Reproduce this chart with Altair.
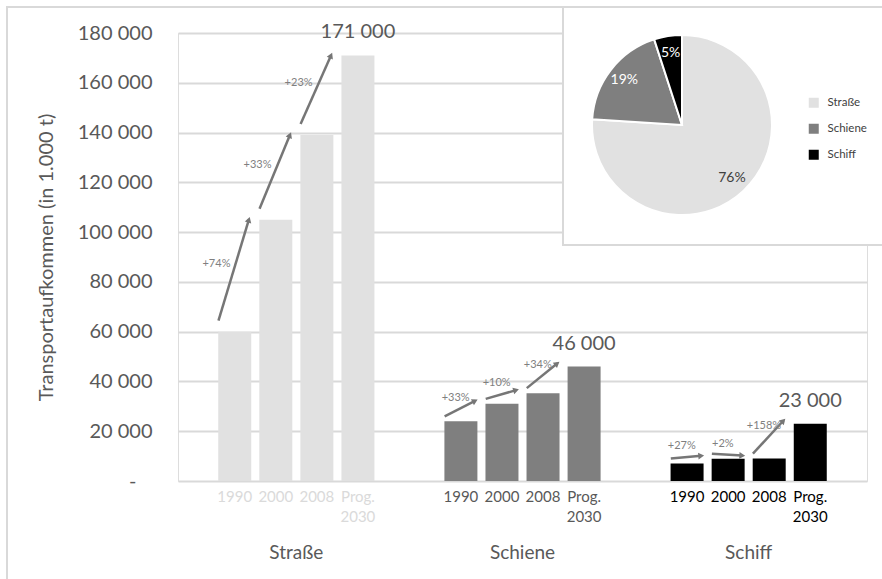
import math
import altair as alt
import pandas as pd

# ---------------- data ----------------
groups = ["Straße", "Schiene", "Schiff"]
years = ["1990", "2000", "2008", "Prog.\n2030"]
strasse = [60000, 105000, 139000, 171000]
schiene = [24000, 31000, 35300, 46000]
schiff = [7000, 8900, 9000, 23000]
growth_strasse = ["+74%", "+33%", "+23%"]
growth_schiene = ["+33%", "+10%", "+34%"]
growth_schiff = ["+27%", "+2%", "+158%"]
share_values = [76, 19, 5]
share_labels = ["76%", "19%", "5%"]
y_ticks = [0, 20000, 40000, 60000, 80000, 100000, 120000, 140000, 160000, 180000]

# ---------------- style / layout ----------------
bar_colors = ["#e1e1e1", "#7f7f7f", "#000000"]
year_label_colors = ["#dadada", "#595959", "#000000"]
GRAY_TXT = "#595959"
ARROW = "#767676"
FONT = "Lato"

W, H = 689, 448
PITCH = 41.67          # px between neighbouring bars
GROUP_STEP = 5.508     # distance between groups, in bar pitches
EDGE = 1.26            # outer margin, in bar pitches
BAR_W = 33
HALF = BAR_W / 2 / PITCH
YMAX = 180000
# pixel lift of arrow start / end above the bar tops (road vs. the others)
LIFT = {"Straße": (11, 0), "Schiene": (5, 3), "Schiff": (5, 3)}

x_domain = [-EDGE, 2 * GROUP_STEP + 3 + EDGE]

series = [strasse, schiene, schiff]
growths = [growth_strasse, growth_schiene, growth_schiff]

bar_rows, arrow_rows = [], []
for g, (name, vals) in enumerate(zip(groups, series)):
    for j, (yr, v) in enumerate(zip(years, vals)):
        pos = g * GROUP_STEP + j
        lab = f"{v:,}".replace(",", " ") if j == len(years) - 1 else ""
        bar_rows.append(dict(group=name, year=yr, value=v, pos=pos, label=lab))
    s_lift, e_lift = LIFT[name]
    for i in range(3):
        x1 = g * GROUP_STEP + i - HALF
        x2 = g * GROUP_STEP + i + 1 - HALF - 0.26
        v1, v2 = vals[i], vals[i + 1]
        dx = (x2 - x1) * PITCH
        dy = (v2 - v1) * H / YMAX + (e_lift - s_lift)
        ang = math.degrees(math.atan2(dx, dy)) % 360
        arrow_rows.append(dict(group=name, x1=x1, x2=x2, v1=v1, v2=v2,
                               mid=(v1 + v2) / 2, pct=growths[g][i], angle=ang))

bars_df = pd.DataFrame(bar_rows)
arrows_df = pd.DataFrame(arrow_rows)
group_df = pd.DataFrame(dict(group=groups,
                             gpos=[g * GROUP_STEP + 1.5 for g in range(3)]))
pie_df = pd.DataFrame(dict(group=groups, share=share_values,
                           txt=share_labels, idx=[0, 1, 2]))
one = pd.DataFrame(dict(k=[0]))

xs = alt.Scale(domain=x_domain, nice=False, zero=False)
ys = alt.Scale(domain=[0, YMAX], nice=False)
color_scale = alt.Scale(domain=groups, range=bar_colors)
legend = alt.Legend(orient="none", legendX=630, legendY=64, title=None,
                    symbolType="square", symbolSize=100, symbolStrokeWidth=0,
                    labelFontSize=11.5, labelColor="#404040", labelFont=FONT,
                    rowPadding=13, labelOffset=8, padding=0)

y_axis = alt.Axis(values=y_ticks,
                  labelExpr="datum.value == 0 ? '-' : replace(format(datum.value, ','), ',', ' ')",
                  labelFontSize=20, labelColor=GRAY_TXT, labelFont=FONT,
                  labelPadding={"condition": {"test": "datum.value == 0", "value": 42}, "value": 26},
                  ticks=False, domain=False, grid=True, gridColor="#d9d9d9",
                  gridWidth=2, title="Transportaufkommen (in 1.000 t)",
                  titleFontSize=20, titleColor=GRAY_TXT, titleFontWeight="normal",
                  titleFont=FONT, titlePadding=21)


def Y(field):
    return alt.Y(field, scale=ys, axis=y_axis)


def X(field):
    return alt.X(field, scale=xs, axis=None)


# outer border of the chart area
border = alt.Chart(one).mark_rect(fillOpacity=0, stroke="#d9d9d9", strokeWidth=2).encode(
    x=alt.value(-171), x2=alt.value(W + 30), y=alt.value(-26), y2=alt.value(H + 120))

bars = alt.Chart(bars_df).mark_bar(size=BAR_W).encode(
    x=X("pos:Q"), y=Y("value:Q"),
    color=alt.Color("group:N", scale=color_scale, legend=legend),
)

arrow_layers = []
for name in groups:
    s_lift, e_lift = LIFT[name]
    sub = alt.Chart(arrows_df).transform_filter(alt.datum.group == name)
    arrow_layers.append(sub.mark_rule(color=ARROW, strokeWidth=2.5,
                                      yOffset=-s_lift, y2Offset=-e_lift).encode(
        x=X("x1:Q"), x2="x2:Q", y=Y("v1:Q"), y2="v2:Q"))
    arrow_layers.append(sub.mark_point(shape="triangle-up", filled=True, size=45,
                                       color=ARROW, opacity=1, strokeWidth=0,
                                       yOffset=-e_lift).encode(
        x=X("x2:Q"), y=Y("v2:Q"),
        angle=alt.Angle("angle:Q", scale=None)))

pct_road = alt.Chart(arrows_df).transform_filter(alt.datum.group == "Straße").mark_text(
    dx=-2, dy=-12, fontSize=11, color="#7f7f7f", font=FONT).encode(
    x=X("x1:Q"), y=Y("mid:Q"), text="pct:N")

pct_other = alt.Chart(arrows_df).transform_filter(alt.datum.group != "Straße").mark_text(
    dx=11, dy=-15, fontSize=11, color="#7f7f7f", font=FONT).encode(
    x=X("x1:Q"), y=Y("mid:Q"), text="pct:N")

value_labels = alt.Chart(bars_df).transform_filter(alt.datum.label != "").mark_text(
    dy=-23, baseline="middle", fontSize=20, color=GRAY_TXT, font=FONT).encode(
    x=X("pos:Q"), y=Y("value:Q"), text="label:N")

year_labels = alt.Chart(bars_df).mark_text(
    baseline="top", fontSize=15, lineHeight=20, lineBreak="\n", font=FONT).encode(
    x=X("pos:Q"), y=alt.value(H + 9), text="year:N",
    fill=alt.Fill("group:N", scale=alt.Scale(domain=groups, range=year_label_colors), legend=None))

group_labels = alt.Chart(group_df).mark_text(
    baseline="middle", fontSize=19, color=GRAY_TXT, font=FONT).encode(
    x=X("gpos:Q"), y=alt.value(H + 72), text="group:N")

# inset with pie chart
inset = alt.Chart(one).mark_rect(fill="white", stroke="#d9d9d9", strokeWidth=2).encode(
    x=alt.value(385), x2=alt.value(W + 30), y=alt.value(-26), y2=alt.value(212))

pie = alt.Chart(pie_df).mark_arc(radius=90, stroke="white", strokeWidth=2).encode(
    theta=alt.Theta("share:Q", stack=True),
    order=alt.Order("idx:Q"),
    color=alt.Color("group:N", scale=color_scale, legend=legend),
    x=alt.value(504), y=alt.value(92))

pie_text = alt.Chart(pie_df).mark_text(radius=73, fontSize=14, font=FONT).encode(
    theta=alt.Theta("share:Q", stack=True),
    order=alt.Order("idx:Q"),
    text="txt:N",
    color=alt.condition(alt.datum.group == "Straße", alt.value("#404040"), alt.value("white")),
    x=alt.value(504), y=alt.value(92))

chart = alt.layer(border, bars, *arrow_layers, pct_road, pct_other, value_labels,
                  year_labels, group_labels, inset, pie, pie_text).properties(
    width=W, height=H,
    autosize=alt.AutoSizeParams(type="none"),
    padding={"left": 178, "top": 33, "right": 15, "bottom": 98},
    background="white",
).configure_view(strokeWidth=0).configure(font=FONT)

chart.save("out.html", embed_options={"renderer": "svg", "actions": False})
